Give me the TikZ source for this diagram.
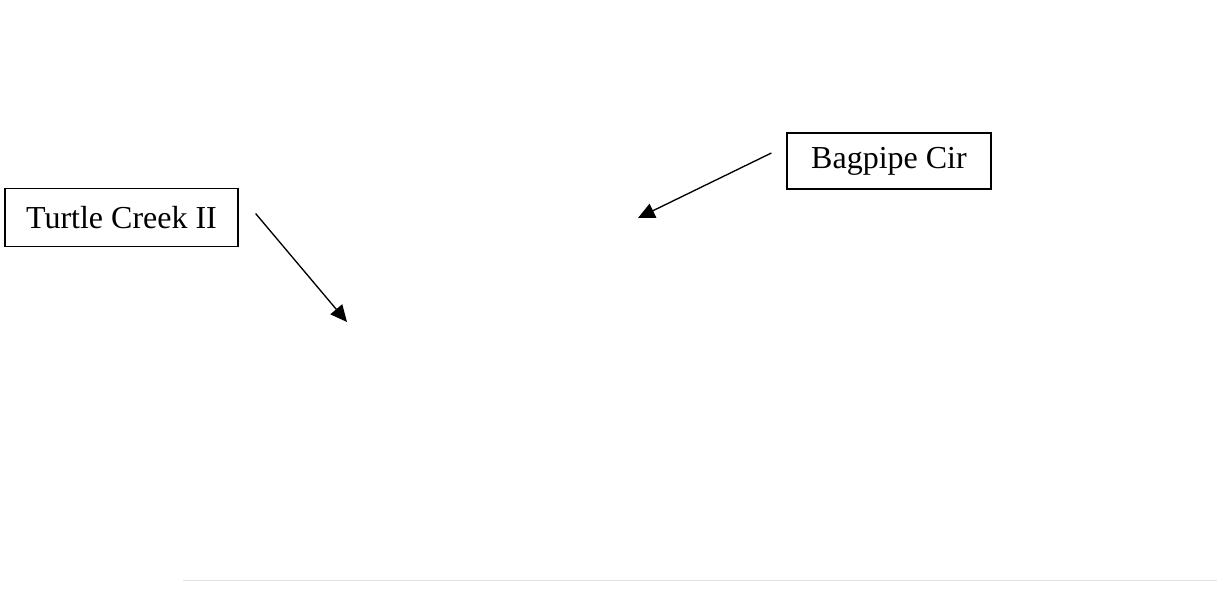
\documentclass[tikz,border=0pt]{standalone}
\usepackage{fontspec}
\setmainfont{Liberation Serif}
\usetikzlibrary{arrows.meta,positioning,calc}

\begin{document}
\begin{tikzpicture}[
    x=0.75pt, y=-0.75pt,
    font=\fontsize{24}{28}\selectfont,
    >={Triangle[length=12.5pt,width=11.5pt]},
    label box/.style={
        rectangle, draw=black, line width=0.9pt,
        inner sep=0pt, minimum height=0.75pt*58,
        anchor=center
    },
    arrow/.style={->, line width=1pt},
]
  \useasboundingbox (0,0) rectangle (1217,610);

  %––– Street labels –––––––––––––––––––––––––––––––––––––––
  \node (turtle) [label box, minimum width=0.75pt*233] at (121.5,217.5) {Turtle Creek II};
  \node (bagpipe) [label box, minimum width=0.75pt*204, minimum height=0.75pt*56] at (889,161) {Bagpipe Cir};

  % free ends of the pointers
  \coordinate (turtletail) at ($(turtle.east)+(17,-4)$);
  \coordinate (turtletip) at (347,322);
  \coordinate (bagpipetail) at ($(bagpipe.west)+(-15,-8)$);
  \coordinate (bagpipetip) at (638,218);

  %––– Arrows –––––––––––––––––––––––––––––––––––––––––––––––
  \draw[arrow] (turtletail) -- (turtletip);
  \draw[arrow] (bagpipetail) -- (bagpipetip);

  %––– Faint rule at the bottom ––––––––––––––––––––––––––––
  \draw[black!12, line width=0.75pt] (183,580) -- (1217,580);
\end{tikzpicture}
\end{document}
